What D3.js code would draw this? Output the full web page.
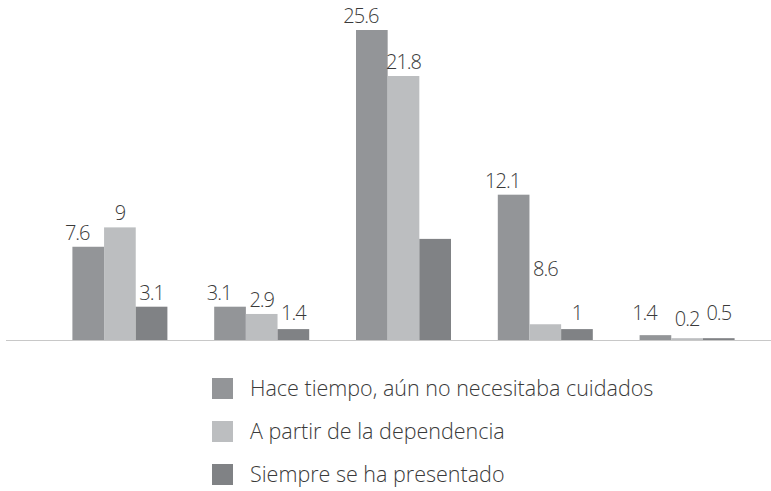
<!DOCTYPE html>
<html>
<head>
<meta charset="utf-8">
<script src="https://cdn.jsdelivr.net/npm/d3@7"></script>
<style>
  body { margin: 0; background: #fff; }
  text { font-family: "Open Sans", sans-serif; font-weight: 300; fill: #3a3a3a; }
</style>
</head>
<body>
<div id="chart"></div>
<script>
var svgWidth = 771;
var svgHeight = 491;

// data
var groups = ["g1", "g2", "g3", "g4", "g5"];
var seriesNames = ["Hace tiempo, aún no necesitaba cuidados", "A partir de la dependencia", "Siempre se ha presentado"];
var seriesColors = ["#939598", "#bcbec0", "#808285"];
// bar heights as drawn in the reference
var hace = [7.7, 2.75, 25.6, 12.0, 0.4];
var partir = [9.3, 2.15, 21.8, 1.3, 0.15];
var siempre = [2.75, 0.9, 8.35, 0.9, 0.15];
// printed value labels (third bar of group 3 has none)
var haceLabels = ["7.6", "3.1", "25.6", "12.1", "1.4"];
var partirLabels = ["9", "2.9", "21.8", "8.6", "0.2"];
var siempreLabels = ["3.1", "1.4", "", "1", "0.5"];

var seriesValues = [hace, partir, siempre];
var seriesLabels = [haceLabels, partirLabels, siempreLabels];

var baseY = 340;

var svg = d3.select("#chart")
    .append("svg")
    .attr("width", svgWidth)
    .attr("height", svgHeight);

var x0 = d3.scaleBand()
    .domain(groups)
    .range([49, 758])
    .paddingInner(0.33)
    .paddingOuter(0.165);

var x1 = d3.scaleBand()
    .domain([0, 1, 2])
    .range([0, x0.bandwidth()]);

var y = d3.scaleLinear()
    .domain([0, 25.6])
    .range([baseY, 30]);

var rows = [];
groups.forEach((g, gi) => {
    seriesValues.forEach((vals, si) => {
        rows.push({ group: g, gi: gi, si: si, value: vals[gi], label: seriesLabels[si][gi] });
    });
});

svg.selectAll(".bar")
    .data(rows)
    .enter()
    .append("rect")
    .attr("class", "bar")
    .attr("x", d => x0(d.group) + x1(d.si))
    .attr("y", d => y(d.value))
    .attr("width", x1.bandwidth())
    .attr("height", d => baseY - y(d.value))
    .attr("fill", d => seriesColors[d.si]);

// baseline
svg.append("line")
    .attr("x1", 6)
    .attr("x2", 771)
    .attr("y1", baseY + 0.5)
    .attr("y2", baseY + 0.5)
    .attr("stroke", "#c8c8c8")
    .attr("stroke-width", 1);

// value labels
var lift = { "3-1": 41, "4-1": -6 };
svg.selectAll(".val")
    .data(rows.filter(d => d.label !== ""))
    .enter()
    .append("text")
    .attr("class", "val")
    .attr("text-anchor", "middle")
    .attr("font-size", "20px")
    .attr("letter-spacing", "-1px")
    .attr("x", d => x0(d.group) + x1(d.si) + x1.bandwidth() / 2 - (d.si === 0 ? 11 : 0))
    .attr("y", d => Math.min(y(d.value) - 7, baseY - 20) - (lift[d.gi + "-" + d.si] || 0))
    .text(d => d.label);

// legend
var legend = svg.selectAll(".legend")
    .data(seriesNames)
    .enter()
    .append("g")
    .attr("class", "legend")
    .attr("transform", (d, i) => `translate(212, ${378 + i * 43})`);

legend.append("rect")
    .attr("width", 21)
    .attr("height", 21)
    .attr("fill", (d, i) => seriesColors[i]);

legend.append("text")
    .attr("x", 38)
    .attr("y", 18)
    .attr("font-size", "21.5px")
    .text(d => d);
</script>
</body>
</html>
